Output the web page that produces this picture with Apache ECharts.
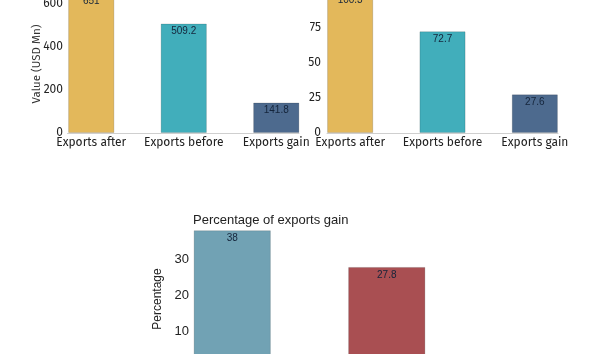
<!DOCTYPE html>
<html>
<head>
<meta charset="utf-8">
<script src="https://cdn.jsdelivr.net/npm/echarts@6/dist/echarts.min.js"></script>
<style>
  html, body { margin: 0; padding: 0; background: #fff; }
  #chart { width: 590px; height: 354px; }
</style>
</head>
<body>
<div id="chart"></div>
<script>
  // data
  const exportCats = ['Exports after', 'Exports before', 'Exports gain']
  const valueUsd = [651, 509.2, 141.8]
  const valueRight = [100.3, 72.7, 27.6]
  const pctCats = ['Share A', 'Share B']
  const pctValues = [38, 27.8]

  const exportColors = ['#E3B85B', '#41AEBB', '#4D6A8E']
  const pctColors = ['#71A2B4', '#A94F52']

  const topFont = 'Fira Sans, Lato, sans-serif'
  const botFont = 'Liberation Sans, Arial, sans-serif'

  const chart = echarts.init(document.getElementById('chart'))

  function barData (vals, colors) {
    return vals.map((v, i) => ({
      value: v,
      itemStyle: { color: colors[i], borderColor: 'rgba(0,0,0,0.15)', borderWidth: 1 }
    }))
  }

  const topLabel = {
    show: true,
    position: 'insideTop',
    distance: 3,
    fontSize: 10,
    color: '#14243a',
    fontFamily: botFont
  }

  const catLabel = { fontSize: 12, color: '#222', fontFamily: topFont, margin: 4, interval: 0 }
  const valLabel = { fontSize: 12, color: '#222', fontFamily: topFont, margin: 4 }
  const noGrid = { outerBoundsMode: 'none', containLabel: false }

  // baseline axes: span only the bars, like the source plot
  function baseAxis (gridIndex) {
    return {
      gridIndex: gridIndex,
      type: 'value',
      min: 0,
      max: 1,
      axisLine: { lineStyle: { color: '#cfcfcf' } },
      axisTick: { show: false },
      axisLabel: { show: false },
      splitLine: { show: false }
    }
  }
  function hiddenY (gridIndex) {
    return { gridIndex: gridIndex, type: 'value', show: false }
  }

  const option = {
    animation: false,
    title: {
      text: 'Percentage of exports gain',
      left: 193,
      top: 214,
      padding: 0,
      textStyle: { fontSize: 13, fontWeight: 'normal', color: '#222', fontFamily: botFont }
    },
    graphic: [{
      type: 'text',
      x: 37,
      y: 64,
      rotation: Math.PI / 2,
      style: {
        text: 'Value (USD Mn)',
        fontSize: 11.5,
        fontFamily: topFont,
        fill: '#333',
        align: 'center',
        verticalAlign: 'middle'
      }
    }],
    grid: [
      Object.assign({ left: 45, top: -39, width: 277.5, height: 172 }, noGrid),
      Object.assign({ left: 304, top: -42, width: 277, height: 175 }, noGrid),
      Object.assign({ left: 155, top: 223, width: 309, height: 144 }, noGrid),
      Object.assign({ left: 67.5, top: 132, width: 231.5, height: 1 }, noGrid),
      Object.assign({ left: 327, top: 132, width: 231, height: 1 }, noGrid)
    ],
    xAxis: [
      {
        gridIndex: 0,
        type: 'category',
        data: exportCats,
        axisLine: { show: false },
        axisTick: { show: false },
        axisLabel: catLabel
      },
      {
        gridIndex: 1,
        type: 'category',
        data: exportCats,
        axisLine: { show: false },
        axisTick: { show: false },
        axisLabel: catLabel
      },
      {
        gridIndex: 2,
        type: 'category',
        data: pctCats,
        axisLine: { show: false },
        axisTick: { show: false },
        axisLabel: { fontSize: 12, color: '#222', fontFamily: botFont }
      },
      baseAxis(3),
      baseAxis(4)
    ],
    yAxis: [
      {
        gridIndex: 0,
        type: 'value',
        min: 0,
        max: 800,
        interval: 200,
        offset: -22,
        axisLine: { show: false },
        axisTick: { show: false },
        splitLine: { show: false },
        axisLabel: valLabel
      },
      {
        gridIndex: 1,
        type: 'value',
        min: 0,
        max: 125,
        interval: 25,
        offset: -21,
        axisLine: { show: false },
        axisTick: { show: false },
        splitLine: { show: false },
        axisLabel: valLabel
      },
      {
        gridIndex: 2,
        type: 'value',
        min: 0,
        max: 40,
        interval: 10,
        offset: -38,
        name: 'Percentage',
        nameLocation: 'middle',
        nameGap: 22,
        nameTextStyle: { fontSize: 12, color: '#222', fontFamily: botFont, padding: [0, 0, 0, -8] },
        axisLine: { show: false },
        axisTick: { show: false },
        splitLine: { show: false },
        axisLabel: { fontSize: 13, color: '#222', fontFamily: botFont, margin: 4, showMaxLabel: false }
      },
      hiddenY(3),
      hiddenY(4)
    ],
    series: [
      {
        type: 'bar',
        xAxisIndex: 0,
        yAxisIndex: 0,
        barWidth: '50%',
        data: barData(valueUsd, exportColors),
        label: topLabel
      },
      {
        type: 'bar',
        xAxisIndex: 1,
        yAxisIndex: 1,
        barWidth: '50%',
        data: barData(valueRight, exportColors),
        label: topLabel
      },
      {
        type: 'bar',
        xAxisIndex: 2,
        yAxisIndex: 2,
        barWidth: '50%',
        data: barData(pctValues, pctColors),
        label: topLabel
      }
    ]
  }

  chart.setOption(option)
</script>
</body>
</html>
